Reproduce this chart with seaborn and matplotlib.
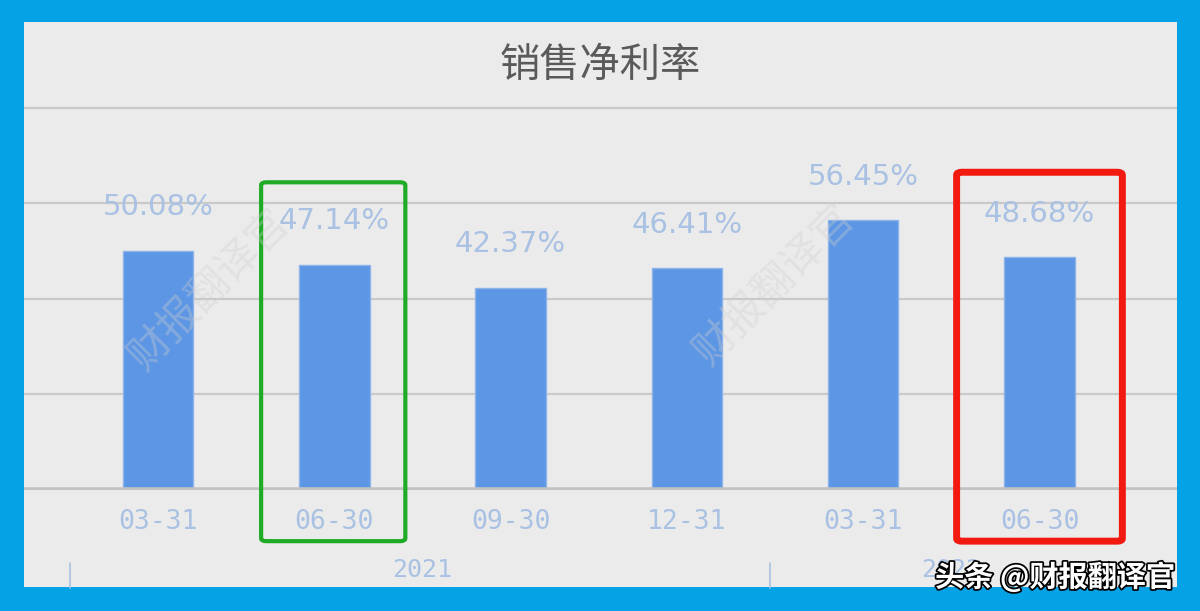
import pandas as pd
import matplotlib
matplotlib.use("Agg")
import matplotlib.pyplot as plt
import matplotlib.patheffects as pe
from matplotlib.patches import FancyBboxPatch, Rectangle
import seaborn as sns

# chart data
periods = ["2021-03-31", "2021-06-30", "2021-09-30", "2021-12-31", "2022-03-31", "2022-06-30"]
tick_labels = ["03-31", "06-30", "09-30", "12-31", "03-31", "06-30"]
net_margin = [50.08, 47.14, 42.37, 46.41, 56.45, 48.68]
years = ["2021", "2022"]
title = "销售净利率"

df = pd.DataFrame({"period": periods, "margin": net_margin})

sns.set_theme(style="white")
plt.rcParams['font.family'] = ['Noto Sans CJK SC', 'DejaVu Sans']

BORDER = "#05a2e6"
BG = "#ebebeb"
BAR = "#5d96e4"
LABEL = "#a9c1e2"

fig = plt.figure(figsize=(12, 6.11), dpi=100, facecolor=BORDER)
# gray panel inside the blue frame
fig.patches.append(Rectangle((24 / 1200, 24 / 611), 1153 / 1200, 565 / 611,
                             transform=fig.transFigure, facecolor=BG,
                             edgecolor="none", zorder=-10))

ax = fig.add_axes([24 / 1200, 0.198, 1153 / 1200, 0.628])
ax.set_facecolor("none")

sns.barplot(data=df, x="period", y="margin", color=BAR, width=0.4,
            edgecolor="#8cb4ea", linewidth=1, saturation=1, ax=ax, zorder=3)

ax.set_xlim(-0.76, 5.78)
ax.set_ylim(0, 80.3)
ax.set_yticks([20, 40, 60, 80])
ax.yaxis.grid(True, color="#c9c9c9", linewidth=1.6)
ax.set_yticklabels([])
ax.tick_params(axis="y", length=0)
ax.axhline(0, color="#c2c2c2", linewidth=4, zorder=4)
for s in ax.spines.values():
    s.set_visible(False)

ax.set_xticks(range(len(tick_labels)))
ax.set_xticklabels(tick_labels, color=LABEL, fontsize=19, family="DejaVu Sans Mono")
ax.tick_params(axis="x", length=0, pad=14)
ax.set_xlabel("")
ax.set_ylabel("")

# value labels
for i, v in enumerate(net_margin):
    ax.text(i, v + 6.2, f"{v:.2f}%", ha="center", va="bottom", color=LABEL,
            fontsize=21, family="DejaVu Sans", zorder=5)

# year groups
for j, yr in enumerate(years):
    ax.text(1.5 + 3 * j, -16.8, yr, ha="center", va="center", color=LABEL,
            fontsize=18, family="DejaVu Sans Mono", clip_on=False)
    ax.plot([-0.5 + 3.97 * j, -0.5 + 3.97 * j], [-15.3, -20.5], color=LABEL,
            linewidth=1.2, clip_on=False)

ax.set_title(title, fontsize=29, color="#5a5a5a", pad=21)

# highlight boxes
ax.add_patch(FancyBboxPatch((0.585, -10.7), 0.818, 75.1,
                            boxstyle="round,pad=0,rounding_size=0.03",
                            fill=False, edgecolor="#1fab25", linewidth=3,
                            clip_on=False, zorder=6, mutation_aspect=20))
ax.add_patch(FancyBboxPatch((4.53, -10.7), 0.94, 77.2,
                            boxstyle="round,pad=0,rounding_size=0.03",
                            fill=False, edgecolor="#f21a10", linewidth=5,
                            clip_on=False, zorder=6, mutation_aspect=20))

# faint watermarks
for x, y in [(210 / 1200, 1 - 290 / 611), (775 / 1200, 1 - 285 / 611)]:
    fig.text(x, y, "财报翻译官", rotation=45, ha="center", va="center",
             fontsize=30, color="#d0d0d0", alpha=0.35, fontweight="light", zorder=1)

fig.text(1055 / 1200, 1 - 577 / 611, "头条 @财报翻译官", ha="center", va="center",
         fontsize=21, color="white", fontweight="bold",
         path_effects=[pe.withStroke(linewidth=2.5, foreground="black")], zorder=10)

fig.savefig("out.png", dpi=100, facecolor=BORDER)
